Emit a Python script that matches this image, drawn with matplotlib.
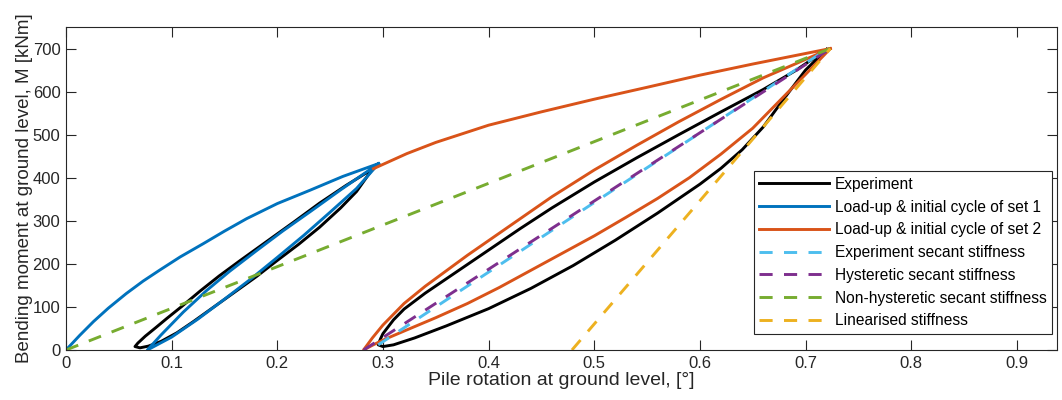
import matplotlib
matplotlib.use("Agg")
import matplotlib.pyplot as plt
import numpy as np

plt.rcParams['font.family'] = ['Liberation Sans', 'DejaVu Sans']

# ---- Experiment (black): set 1 loop ----
exp1_unload_theta = [0.290, 0.275, 0.260, 0.240, 0.220, 0.200, 0.180, 0.160, 0.140, 0.120, 0.105, 0.090, 0.078, 0.070, 0.0653]
exp1_unload_M     = [420,   368,   330,   285,   245,   208,   170,   135,   100,   65,    40,    20,    9,     5,     8]
exp1_reload_theta = [0.0653, 0.068, 0.075, 0.085, 0.0953, 0.110, 0.127, 0.145, 0.165, 0.190, 0.215, 0.240, 0.265, 0.290]
exp1_reload_M     = [8,      16,    32,    52,    73,     102,   137,   172,   208,   252,   296,   341,   382,   420]

# ---- Experiment (black): set 2 loop ----
exp2_unload_theta = [0.720, 0.700, 0.680, 0.660, 0.640, 0.620, 0.600, 0.560, 0.520, 0.480, 0.440, 0.400, 0.360, 0.330, 0.310, 0.300, 0.2955]
exp2_unload_M     = [698,   650,   585,   518,   465,   422,   385,   318,   255,   196,   143,   96,    56,    28,    12,    8,     12]
exp2_reload_theta = [0.2955, 0.2975, 0.300, 0.310, 0.320, 0.340, 0.370, 0.400, 0.430, 0.460, 0.500, 0.540, 0.580, 0.620, 0.660, 0.690, 0.720]
exp2_reload_M     = [12,     25,     38,    70,    95,    132,   182,   232,   282,   330,   390,   446,   500,   553,   605,   648,   698]

# ---- Load-up & initial cycle of set 1 (blue) ----
set1_load_theta   = [0.0, 0.013, 0.026, 0.040, 0.057, 0.073, 0.089, 0.108, 0.130, 0.150, 0.171, 0.200, 0.231, 0.262, 0.296]
set1_load_M       = [0,   34,    66,    97,    131,   160,   186,   216,   247,   276,   305,   340,   371,   403,   433]
set1_unload_theta = [0.296, 0.275, 0.250, 0.225, 0.200, 0.175, 0.150, 0.125, 0.100, 0.077]
set1_unload_M     = [433,   375,   320,   266,   215,   165,   118,   72,    30,    0]
set1_reload_theta = [0.077, 0.090, 0.111, 0.133, 0.155, 0.180, 0.205, 0.231, 0.260, 0.296]
set1_reload_M     = [0,     35,    88,    138,   183,   230,   276,   321,   372,   433]

# ---- Load-up & initial cycle of set 2 (orange) ----
set2_load_theta   = [0.291, 0.3226, 0.350, 0.400, 0.450, 0.4994, 0.550, 0.5997, 0.650, 0.7235]
set2_load_M       = [421,   456,    482,   522,   553,   582,    610,   638,    664,   700]
set2_unload_theta = [0.7235, 0.700, 0.680, 0.650, 0.620, 0.590, 0.560, 0.530, 0.500, 0.470, 0.440, 0.410, 0.380, 0.350, 0.320, 0.300, 0.290, 0.2816]
set2_unload_M     = [700,    640,   590,   515,   455,   400,   352,   308,   265,   225,   185,   145,   108,   75,    44,    23,    11,    0]
set2_reload_theta = [0.2816, 0.290, 0.300, 0.320, 0.340, 0.360, 0.380, 0.400, 0.430, 0.460, 0.500, 0.540, 0.580, 0.620, 0.660, 0.690, 0.7235]
set2_reload_M     = [0,      28,    58,    108,   148,   184,   220,   254,   305,   356,   418,   475,   530,   582,   632,   664,   700]

# ---- Secant / linearised stiffness lines (end points) ----
exp_secant_theta  = [0.2955, 0.720]
exp_secant_M      = [12, 698]
hyst_secant_theta = [0.2816, 0.7235]
hyst_secant_M     = [0, 700]
nonhyst_theta     = [0.0, 0.7235]
nonhyst_M         = [0, 700]
lin_theta         = [0.4789, 0.7235]
lin_M             = [0, 700]

x_ticks = [0, 0.1, 0.2, 0.3, 0.4, 0.5, 0.6, 0.7, 0.8, 0.9]
x_ticklabels = ['0', '0.1', '0.2', '0.3', '0.4', '0.5', '0.6', '0.7', '0.8', '0.9']
y_ticks = [0, 100, 200, 300, 400, 500, 600, 700]

C_BLUE = '#0072BD'
C_ORANGE = '#D95319'
C_YELLOW = '#EDB120'
C_PURPLE = '#7E2F8E'
C_GREEN = '#77AC30'
C_CYAN = '#4DBEEE'

fig = plt.figure(figsize=(10.62, 4.0), dpi=100)
ax = fig.add_axes([66/1062, 50/400, 991/1062, 323/400])

lw = 2.1
dash = [4.5, 3.9]

exp_theta = exp1_unload_theta + exp1_reload_theta[1:] + [np.nan] + exp2_unload_theta + exp2_reload_theta[1:]
exp_M = exp1_unload_M + exp1_reload_M[1:] + [np.nan] + exp2_unload_M + exp2_reload_M[1:]
ax.plot(exp_theta, exp_M, color='black', lw=lw, label='Experiment')

s1_theta = set1_load_theta + set1_unload_theta[1:] + set1_reload_theta[1:]
s1_M = set1_load_M + set1_unload_M[1:] + set1_reload_M[1:]
ax.plot(s1_theta, s1_M, color=C_BLUE, lw=lw, label='Load-up & initial cycle of set 1')

s2_theta = set2_load_theta + set2_unload_theta[1:] + set2_reload_theta[1:]
s2_M = set2_load_M + set2_unload_M[1:] + set2_reload_M[1:]
ax.plot(s2_theta, s2_M, color=C_ORANGE, lw=lw, label='Load-up & initial cycle of set 2')

ax.plot(exp_secant_theta, exp_secant_M, color=C_CYAN, lw=lw, dashes=dash, label='Experiment secant stiffness')
ax.plot(hyst_secant_theta, hyst_secant_M, color=C_PURPLE, lw=lw, dashes=dash, label='Hysteretic secant stiffness')
ax.plot(nonhyst_theta, nonhyst_M, color=C_GREEN, lw=lw, dashes=dash, label='Non-hysteretic secant stiffness')
ax.plot(lin_theta, lin_M, color=C_YELLOW, lw=lw, dashes=dash, label='Linearised stiffness')

ax.set_xlim(0, 0.938)
ax.set_ylim(0, 750)
ax.set_xticks(x_ticks)
ax.set_xticklabels(x_ticklabels)
ax.set_yticks(y_ticks)

axis_col = '#262626'
for s in ax.spines.values():
    s.set_color(axis_col)
    s.set_linewidth(0.8)
ax.tick_params(direction='in', length=7, width=0.8, top=True, right=True,
               colors=axis_col, labelsize=12, labelcolor=axis_col, pad=4)

ax.set_xlabel('Pile rotation at ground level, [°]', fontsize=14, color='#262626', labelpad=1)
ax.set_ylabel('Bending moment at ground level, M [kNm]', fontsize=13.5, color='#262626', labelpad=0)

leg = ax.legend(loc='lower right', bbox_to_anchor=(0.995, 0.05), fontsize=11.2,
                frameon=True, fancybox=False, edgecolor='#262626', framealpha=1,
                handlelength=4.5, handletextpad=0.35, labelspacing=0.5,
                borderpad=0.35, borderaxespad=0)
leg.get_frame().set_linewidth(0.8)

fig.savefig('out.png', dpi=100)
